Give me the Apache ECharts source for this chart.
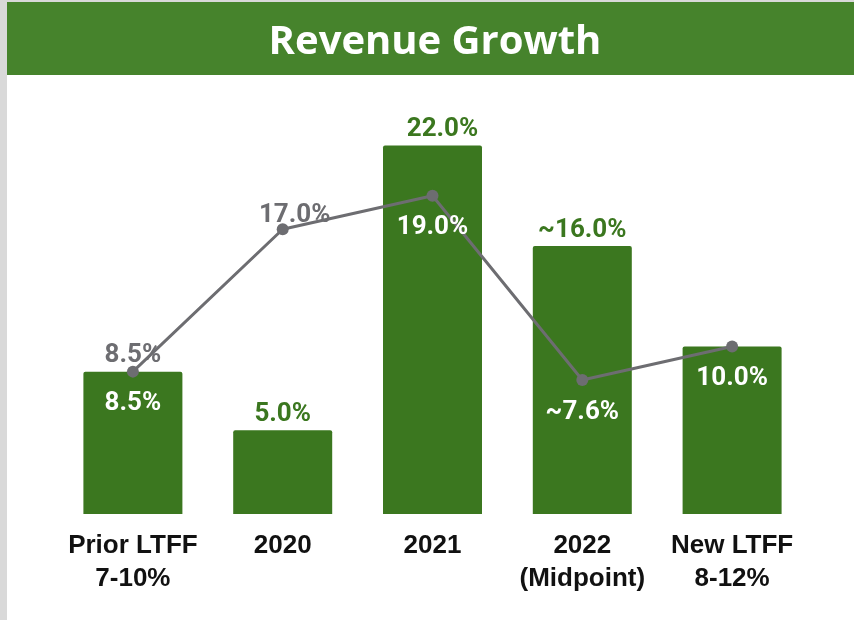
<!DOCTYPE html>
<html>
<head>
<meta charset="utf-8">
<script src="https://cdn.jsdelivr.net/npm/echarts@6/dist/echarts.min.js"></script>
<style>
html,body{margin:0;padding:0;background:#fff;}
#chart{width:854px;height:620px;}
</style>
</head>
<body>
<div id="chart"></div>
<script>
var titleText = 'Revenue Growth';
var categories = ['Prior LTFF\n7-10%', '2020', '2021', '2022\n(Midpoint)', 'New LTFF\n8-12%'];
var barValues = [8.5, 5.0, 22.0, 16.0, 10.0];
var barLabels = ['8.5%', '5.0%', '22.0%', '~16.0%', ''];
var lineValues = [8.5, 17.0, 19.0, 8.0, 10.0];
var lineLabels = ['8.5%', '17.0%', '19.0%', '~7.6%', '10.0%'];

var GREEN = '#3b771f';
var HEADER = '#46832c';
var GRAY = '#6d6d71';

var chart = echarts.init(document.getElementById('chart'));

var barData = barValues.map(function (v, i) {
  return {
    value: v,
    label: {
      formatter: barLabels[i],
      color: i === 0 ? GRAY : GREEN,
      offset: i === 2 ? [10, 0] : [0, 0]
    }
  };
});

var lineData = lineValues.map(function (v, i) {
  var above = (i === 1);
  return {
    value: v,
    label: {
      formatter: lineLabels[i],
      position: above ? 'top' : 'bottom',
      distance: above ? 4 : 13,
      offset: above ? [12, 9] : [0, 0],
      color: above ? GRAY : '#ffffff'
    }
  };
});

chart.setOption({
  animation: false,
  backgroundColor: '#ffffff',
  graphic: [
    { type: 'rect', shape: { x: 0, y: 0, width: 854, height: 2 }, style: { fill: '#d9d9d9' }, z: 0 },
    { type: 'rect', shape: { x: 0, y: 0, width: 7, height: 620 }, style: { fill: '#d9d9d9' }, z: 0 },
    { type: 'rect', shape: { x: 7, y: 2, width: 847, height: 73 }, style: { fill: HEADER }, z: 0 }
  ],
  title: {
    text: titleText,
    left: 430,
    textAlign: 'center',
    top: 18,
    textStyle: {
      color: '#ffffff',
      fontFamily: 'Open Sans',
      fontWeight: 'bold',
      fontSize: 40
    }
  },
  grid: { left: 58, right: 47, top: 112, bottom: 106 },
  xAxis: {
    type: 'category',
    data: categories,
    axisLine: { show: false },
    axisTick: { show: false },
    axisLabel: {
      interval: 0,
      margin: 15,
      color: '#111111',
      fontFamily: 'Liberation Sans',
      fontWeight: 'bold',
      fontSize: 26,
      lineHeight: 33
    }
  },
  yAxis: {
    type: 'value',
    min: 0,
    max: 24,
    show: false,
    splitLine: { show: false }
  },
  series: [
    {
      type: 'bar',
      data: barData,
      barWidth: 99,
      itemStyle: { color: GREEN, borderRadius: [2, 2, 0, 0] },
      label: {
        show: true,
        position: 'top',
        distance: 3,
        fontFamily: 'Roboto',
        fontWeight: 'bold',
        fontSize: 26
      },
      z: 2
    },
    {
      type: 'line',
      data: lineData,
      symbol: 'circle',
      symbolSize: 12,
      lineStyle: { color: GRAY, width: 3 },
      itemStyle: { color: GRAY },
      label: {
        show: true,
        fontFamily: 'Roboto',
        fontWeight: 'bold',
        fontSize: 26
      },
      z: 3
    }
  ]
});
</script>
</body>
</html>
